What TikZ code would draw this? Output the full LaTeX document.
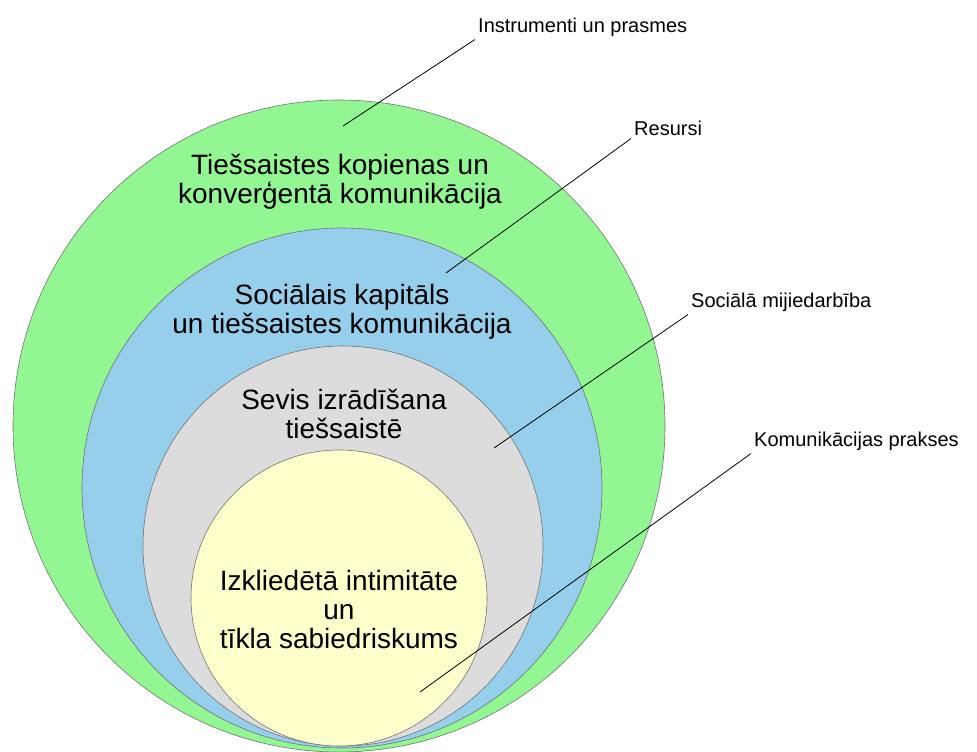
\documentclass[tikz,border=0pt]{standalone}
\usepackage{fontspec}
\setmainfont{Liberation Sans}
\usepackage{xcolor}
\definecolor{ringGreen}{RGB}{146,247,146}
\definecolor{ringBlue}{RGB}{150,207,236}
\definecolor{ringGray}{RGB}{220,220,220}
\definecolor{ringYellow}{RGB}{255,255,204}
\newcommand{\lvRing}[5]{%
    \node[ring, fill=#5, minimum size=#4pt] (#1) at (#2,#3) {};
}

\begin{document}
\begin{tikzpicture}[x=1pt, y=-1pt,
    ring/.style={circle, draw=black!55, line width=0.6pt, inner sep=0pt},
    bigtext/.style={align=center, font=\fontsize{28}{29}\selectfont},
    sidetext/.style={anchor=west, inner sep=3pt, font=\fontsize{20}{22}\selectfont},
    leader/.style={draw=black, line width=0.8pt}]
    \useasboundingbox (0,0) rectangle (977,752);
    % nested rings
    \lvRing{rGreen}{339}{426}{652}{ringGreen}
    \lvRing{rBlue}{342}{488}{520}{ringBlue}
    \lvRing{rGray}{343}{546}{400}{ringGray}
    \lvRing{rYellow}{339}{598}{296}{ringYellow}
    % texts inside
    \node[bigtext] (tGreen) at (340,182) {Tiešsaistes kopienas un\\konverģentā komunikācija};
    \node[bigtext] (tBlue) at (342,312) {Sociālais kapitāls\\un tiešsaistes komunikācija};
    \node[bigtext] (tGray) at (344,414) {Sevis izrādīšana\\tiešsaistē};
    \node[bigtext] (tYellow) at (339,609) {Izkliedētā intimitāte\\un\\tīkla sabiedriskums};
    % side labels
    \node[sidetext] (lTools) at (475,27) {Instrumenti un prasmes};
    \node[sidetext] (lRes) at (631,128) {Resursi};
    \node[sidetext] (lSoc) at (688,302) {Sociālā mijiedarbība};
    \node[sidetext] (lCom) at (751,441) {Komunikācijas prakses};
    \coordinate (pTools) at (343,126);
    \coordinate (pRes) at (446,273);
    \coordinate (pSoc) at (494,448);
    \coordinate (pCom) at (420,692);
    \draw[leader] (lTools.south west) -- (pTools);
    \draw[leader] (lRes.south west) -- (pRes);
    \draw[leader] (lSoc.south west) -- (pSoc);
    \draw[leader] (lCom.south west) -- (pCom);
\end{tikzpicture}
\end{document}
